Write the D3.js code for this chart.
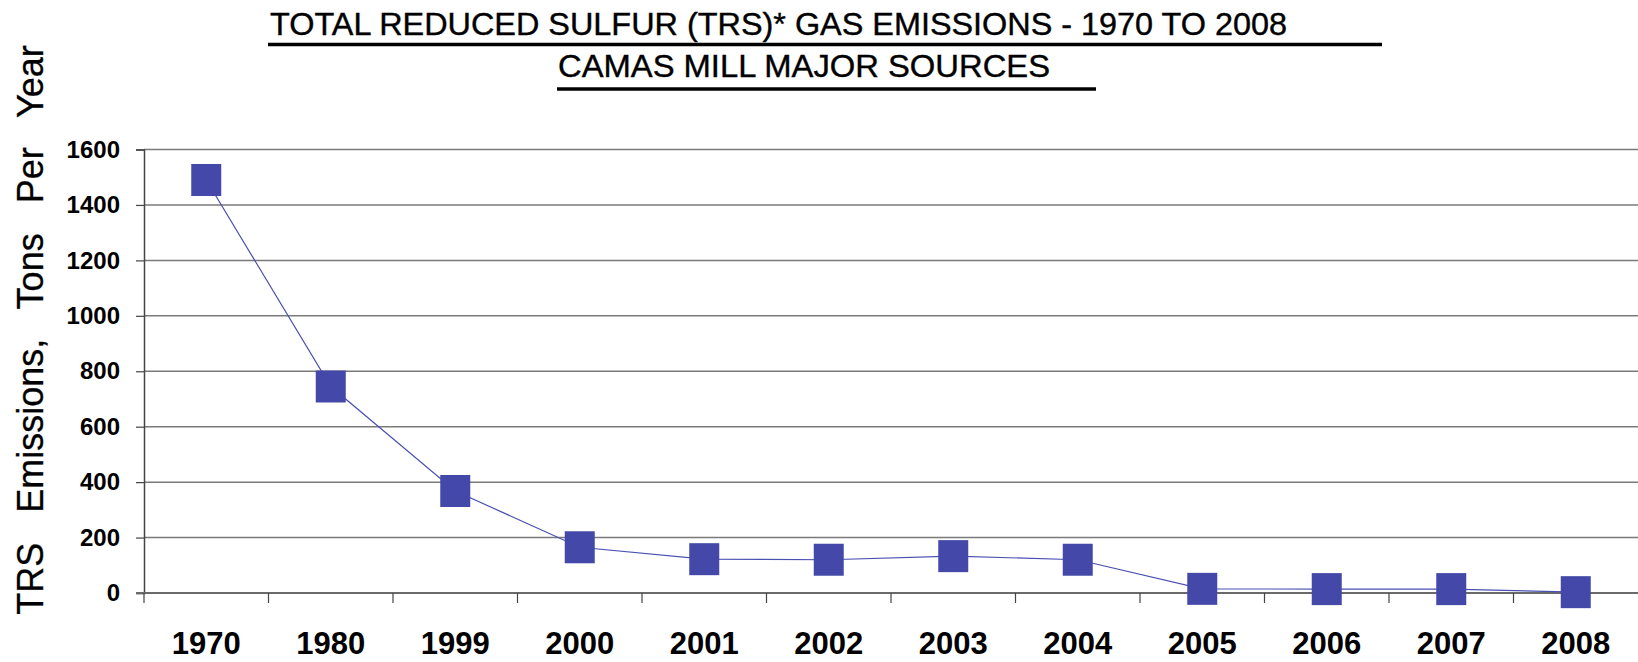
<!DOCTYPE html>
<html>
<head>
<meta charset="utf-8">
<script src="https://cdn.jsdelivr.net/npm/d3@7"></script>
<style>
  body { margin: 0; background: #fff; }
  text { font-family: "Liberation Sans", Arial, sans-serif; }
</style>
</head>
<body>
<div id="chart"></div>
<script>
// Chart data
var years = ["1970", "1980", "1999", "2000", "2001", "2002", "2003", "2004", "2005", "2006", "2007", "2008"];
var trsTons = [1490, 745, 368, 165, 122, 120, 133, 120, 15, 14, 14, 3];
var yTicks = [0, 200, 400, 600, 800, 1000, 1200, 1400, 1600];
var titleLines = ["TOTAL REDUCED SULFUR (TRS)* GAS EMISSIONS - 1970 TO 2008", "CAMAS MILL MAJOR SOURCES"];
var yLabel = "TRS Emissions, Tons Per Year";

var svgWidth = 1638;
var svgHeight = 662;

var margin = { top: 149.5, right: 0, bottom: 69, left: 144 };
var width = svgWidth - margin.left - margin.right;
var height = svgHeight - margin.top - margin.bottom;

var svg = d3.select("#chart")
  .append("svg")
  .attr("width", svgWidth)
  .attr("height", svgHeight);

var chartGroup = svg.append("g")
  .attr("transform", `translate(${margin.left}, ${margin.top})`);

// scales
var xScale = d3.scaleBand()
  .domain(years)
  .range([0, width]);

var yScale = d3.scaleLinear()
  .domain([0, 1600])
  .range([height, 0]);

// gridlines
chartGroup.append("g")
  .selectAll("line")
  .data(yTicks.slice(1))
  .enter()
  .append("line")
  .attr("x1", 0)
  .attr("x2", width)
  .attr("y1", d => yScale(d))
  .attr("y2", d => yScale(d))
  .attr("stroke", "#7a7a7a")
  .attr("stroke-width", 1.5);

// y axis
var leftAxis = d3.axisLeft(yScale)
  .tickValues(yTicks)
  .tickFormat(d3.format("d"))
  .tickSize(8)
  .tickPadding(16);

var yAxisG = chartGroup.append("g").call(leftAxis);
yAxisG.select(".domain").attr("stroke", "#444").attr("stroke-width", 1.5);
yAxisG.selectAll(".tick line").attr("stroke", "#444").attr("stroke-width", 1.2);
yAxisG.selectAll(".tick text")
  .attr("font-size", 24)
  .attr("font-weight", "bold")
  .attr("fill", "#000")
  .style("font-family", "'Liberation Sans', Arial, sans-serif");

// x axis: ticks on band edges, labels in band centres
var xAxisG = chartGroup.append("g")
  .attr("transform", `translate(0, ${height})`);

xAxisG.append("line")
  .attr("x1", -8)
  .attr("x2", width)
  .attr("stroke", "#6a6a6a")
  .attr("stroke-width", 2);

xAxisG.selectAll(".xtick")
  .data(years)
  .enter()
  .append("line")
  .attr("class", "xtick")
  .attr("x1", d => xScale(d))
  .attr("x2", d => xScale(d))
  .attr("y1", 0)
  .attr("y2", 10)
  .attr("stroke", "#444")
  .attr("stroke-width", 1.2);

xAxisG.selectAll(".xlabel")
  .data(years)
  .enter()
  .append("text")
  .attr("class", "xlabel")
  .attr("x", d => xScale(d) + xScale.bandwidth() / 2)
  .attr("y", 61)
  .attr("text-anchor", "middle")
  .attr("font-size", 31)
  .attr("font-weight", "bold")
  .attr("fill", "#000")
  .text(d => d);

// line
var line = d3.line()
  .x((d, i) => xScale(years[i]) + xScale.bandwidth() / 2)
  .y(d => yScale(d));

chartGroup.append("path")
  .datum(trsTons)
  .attr("d", line)
  .attr("fill", "none")
  .attr("stroke", "#4a50b0")
  .attr("stroke-width", 1.2);

// square markers
chartGroup.selectAll(".marker")
  .data(trsTons)
  .enter()
  .append("rect")
  .attr("class", "marker")
  .attr("x", (d, i) => xScale(years[i]) + xScale.bandwidth() / 2 - 15)
  .attr("y", d => yScale(d) - 16)
  .attr("width", 30)
  .attr("height", 32)
  .attr("fill", "#4449a9");

// titles with underlines
svg.append("text")
  .attr("x", 270)
  .attr("y", 35)
  .attr("font-size", 32)
  .attr("textLength", 1017)
  .attr("lengthAdjust", "spacingAndGlyphs")
  .attr("fill", "#000")
  .attr("stroke", "#000")
  .attr("stroke-width", 0.4)
  .text(titleLines[0]);

svg.append("line")
  .attr("x1", 268).attr("x2", 1382)
  .attr("y1", 44.5).attr("y2", 44.5)
  .attr("stroke", "#000")
  .attr("stroke-width", 3.5);

svg.append("text")
  .attr("x", 558)
  .attr("y", 77)
  .attr("font-size", 32)
  .attr("textLength", 492)
  .attr("lengthAdjust", "spacingAndGlyphs")
  .attr("fill", "#000")
  .attr("stroke", "#000")
  .attr("stroke-width", 0.4)
  .text(titleLines[1]);

svg.append("line")
  .attr("x1", 557).attr("x2", 1096)
  .attr("y1", 89).attr("y2", 89)
  .attr("stroke", "#000")
  .attr("stroke-width", 3.5);

// y axis label
svg.append("text")
  .attr("transform", "translate(43, 330) rotate(-90)")
  .attr("text-anchor", "middle")
  .attr("font-size", 36)
  .style("word-spacing", "20px")
  .attr("fill", "#000")
  .attr("stroke", "#000")
  .attr("stroke-width", 0.3)
  .text(yLabel);
</script>
</body>
</html>
